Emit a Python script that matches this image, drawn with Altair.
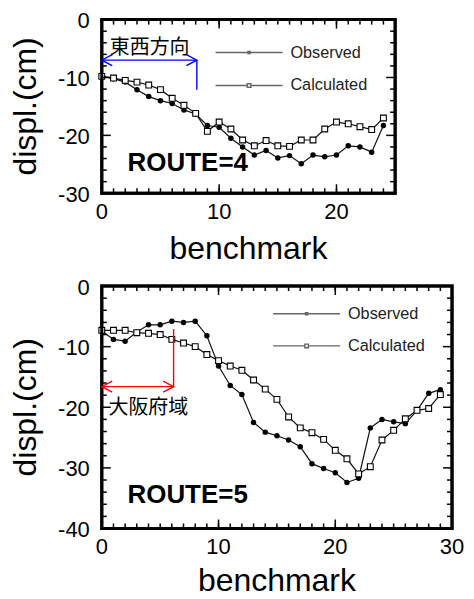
import altair as alt
import pandas as pd

# ---------------- data ----------------
series_names = ["Observed", "Calculated"]

bm4 = list(range(25))
obs4 = [-9.8, -10.2, -10.8, -12.1, -13.3, -14.0, -14.5, -15.6, -16.3, -18.3,
        -18.6, -20.5, -22.0, -23.4, -22.6, -23.9, -23.5, -24.9, -23.4, -23.7,
        -23.4, -21.8, -22.0, -22.9, -18.3]
calc4 = [-9.8, -10.1, -10.5, -10.8, -11.3, -12.1, -13.6, -14.8, -16.2, -19.3,
         -17.7, -18.9, -20.8, -21.8, -20.9, -21.8, -21.9, -20.8, -20.8, -18.9,
         -17.7, -18.0, -18.5, -19.0, -17.0]

bm5 = list(range(30))
obs5 = [-7.4, -8.8, -9.1, -7.6, -6.4, -6.4, -5.8, -6.0, -5.8, -8.2,
        -13.2, -16.4, -17.9, -22.5, -24.1, -24.7, -25.4, -26.5, -29.3, -30.1,
        -30.8, -32.4, -31.7, -23.4, -22.0, -22.4, -22.7, -20.5, -17.7, -17.1]
calc5 = [-7.3, -7.3, -7.3, -7.7, -7.8, -8.0, -8.8, -9.4, -10.0, -11.3,
         -12.3, -13.2, -13.9, -15.5, -17.0, -18.7, -21.6, -23.4, -24.2, -25.3,
         -27.1, -28.5, -31.0, -29.8, -25.4, -23.8, -21.9, -20.5, -20.2, -17.9]

# axis tick values
x_labels4 = [0, 10, 20]
x_labels5 = [0, 10, 20, 30]
y_labels4 = [0, -10, -20, -30]
y_labels5 = [0, -10, -20, -30, -40]
x_major4 = [10, 20]
x_major5 = [10, 20]
y_major4 = [-10, -20]
y_major5 = [-10, -20, -30]
x_minor4 = list(range(1, 25))
x_minor5 = list(range(1, 30))
y_minor4 = [-2, -4, -6, -8, -12, -14, -16, -18, -22, -24, -26, -28]
y_minor5 = [-2, -4, -6, -8, -12, -14, -16, -18, -22, -24, -26, -28,
            -32, -34, -36, -38]
x_title = "benchmark"
y_title = "displ.(cm)"

# annotations (data units)
route_text = ["ROUTE=4", "ROUTE=5"]
route_xy = [(2.2, -24.8), (2.2, -34.4)]
jp_text = ["東西方向", "大阪府域"]
jp_xy = [(0.68, -4.9), (0.57, -20.2)]
arrow_y = [-7.0, -16.6]
arrow_x2 = [8.1, 6.15]
vline_y = [(-7.0, -12.1), (-7.1, -16.6)]
arrow_color = ["#0000ff", "#ff0000"]

FONT = "Liberation Sans"
JFONT = "Noto Sans CJK JP"

# legend symbols: line with marker (stroke only)
P_OBS = ("M-1,0H6.9M2.82,-0.12H3.08V0.12H2.82ZM2.9,-0.04H3V0.04H2.9Z")
P_CALC = "M-1,0H2.74M3.16,0H6.9M2.74,-0.21H3.16V0.21H2.74Z"
HEAD_L = "M1.9,-1L0,0L1.9,1"
HEAD_R = "M-1.9,-1L0,0L-1.9,1"

MAJOR = 9
MINOR = 5


def panel(i, bm, obs, calc, xmax, ymin, w, h, xl, yl, xM, yM, xm, ym,
          leg_x, leg_y, row_pad, title_gap):
    df = pd.DataFrame({"bm": bm, "obs": obs, "calc": calc})
    xs = alt.Scale(domain=[0, xmax], nice=False, zero=False)
    ys = alt.Scale(domain=[ymin, 0], nice=False, zero=False)

    def X(f):
        return alt.X(f, scale=xs, axis=None)

    def Y(f):
        return alt.Y(f, scale=ys, axis=None)

    # inward ticks on all four sides, placed through the scales
    def xticks(vals, y0, y1):
        return alt.Chart(pd.DataFrame({"t": vals})).mark_rule(
            color="black", strokeWidth=1.5).encode(
            x=X("t:Q"), y=alt.value(y0), y2=alt.value(y1))

    def yticks(vals, x0, x1):
        return alt.Chart(pd.DataFrame({"t": vals})).mark_rule(
            color="black", strokeWidth=1.5).encode(
            y=Y("t:Q"), x=alt.value(x0), x2=alt.value(x1))

    ticks = [
        xticks(xM, h, h - MAJOR), xticks(xm, h, h - MINOR),
        xticks(xM, 0, MAJOR), xticks(xm, 0, MINOR),
        yticks(yM, 0, MAJOR), yticks(ym, 0, MINOR),
        yticks(yM, w, w - MAJOR), yticks(ym, w, w - MINOR),
    ]
    frame = alt.Chart(pd.DataFrame({"a": [0]})).mark_rect(
        fill="white", fillOpacity=0, stroke="black", strokeWidth=3).encode(
        x=alt.value(0), x2=alt.value(w), y=alt.value(0), y2=alt.value(h))

    # tick labels and axis titles as text placed through the scales
    xl_df = pd.DataFrame({"v": xl, "s": [str(v) for v in xl]})
    yl_df = pd.DataFrame({"v": yl, "s": [str(v) for v in yl]})
    x_labs = alt.Chart(xl_df).mark_text(
        font=FONT, fontSize=22, align="center", baseline="alphabetic",
        color="black").encode(x=X("v:Q"), y=alt.value(h + 26), text="s:N")
    y_labs = alt.Chart(yl_df).mark_text(
        font=FONT, fontSize=22, align="right", baseline="alphabetic",
        dy=8.5, color="black").encode(y=Y("v:Q"), x=alt.value(-12),
                                      text="s:N")
    xt = alt.Chart(pd.DataFrame({"s": [x_title]})).mark_text(
        font=FONT, fontSize=32, align="center", baseline="alphabetic",
        color="black").encode(x=alt.value(w / 2), y=alt.value(h + title_gap),
                              text="s:N")
    yt = alt.Chart(pd.DataFrame({"s": [y_title]})).mark_text(
        font=FONT, fontSize=32, align="center", baseline="alphabetic",
        angle=270, color="black").encode(x=alt.value(-66),
                                         y=alt.value(h / 2), text="s:N")

    base = alt.Chart(df)
    obs_line = base.mark_line(color="#111", strokeWidth=1.2).encode(
        x=X("bm:Q"), y=Y("obs:Q"))
    calc_line = base.mark_line(color="#111", strokeWidth=1.2).encode(
        x=X("bm:Q"), y=Y("calc:Q"))
    obs_pts = base.mark_point(shape="circle", filled=True, color="black",
                              size=30, opacity=1).encode(
        x=X("bm:Q"), y=Y("obs:Q"))
    calc_pts = base.mark_square(size=34, fill="white", stroke="black",
                                strokeWidth=1.1, opacity=1).encode(
        x=X("bm:Q"), y=Y("calc:Q"))

    leg_df = pd.DataFrame({"series": series_names, "bm": [0, 0], "v": [0, 0]})
    legend_layer = alt.Chart(leg_df).mark_point(
        size=289, color="#666", filled=False, strokeWidth=1.4).encode(
        x=X("bm:Q"), y=Y("v:Q"),
        shape=alt.Shape("series:N", scale=alt.Scale(domain=series_names,
                                                    range=[P_OBS, P_CALC]),
                        legend=alt.Legend(
                            orient="none", legendX=leg_x, legendY=leg_y,
                            title=None, labelFont=FONT, labelFontSize=16.3,
                            labelColor="#222", symbolSize=289,
                            symbolStrokeColor="#666", symbolStrokeWidth=1.4,
                            symbolOpacity=1, labelOffset=57,
                            rowPadding=row_pad, padding=0)),
    ).transform_filter("false")

    col = arrow_color[i]
    ann_h = pd.DataFrame({"x": [0], "x2": [arrow_x2[i]], "y": [arrow_y[i]]})
    ann_v = pd.DataFrame({"x": [arrow_x2[i]], "y": [vline_y[i][0]],
                          "y2": [vline_y[i][1]]})
    hl = pd.DataFrame({"x": [0], "y": [arrow_y[i]]})
    hr = pd.DataFrame({"x": [arrow_x2[i]], "y": [arrow_y[i]]})
    rule_h = alt.Chart(ann_h).mark_rule(color=col, strokeWidth=1.4).encode(
        x=X("x:Q"), x2="x2", y=Y("y:Q"))
    rule_v = alt.Chart(ann_v).mark_rule(color=col, strokeWidth=1.4).encode(
        x=X("x:Q"), y=Y("y:Q"), y2="y2")
    head_l = alt.Chart(hl).mark_point(shape=HEAD_L, size=121, filled=False,
                                      stroke=col, strokeWidth=1.4,
                                      opacity=1).encode(x=X("x:Q"), y=Y("y:Q"))
    head_r = alt.Chart(hr).mark_point(shape=HEAD_R, size=121, filled=False,
                                      stroke=col, strokeWidth=1.4,
                                      opacity=1).encode(x=X("x:Q"), y=Y("y:Q"))

    jp = pd.DataFrame({"x": [jp_xy[i][0]], "y": [jp_xy[i][1]], "t": [jp_text[i]]})
    jp_t = alt.Chart(jp).mark_text(font=JFONT, fontSize=20, align="left",
                                   baseline="middle", color="black").encode(
        x=X("x:Q"), y=Y("y:Q"), text="t:N")
    rt = pd.DataFrame({"x": [route_xy[i][0]], "y": [route_xy[i][1]],
                       "t": [route_text[i]]})
    rt_t = alt.Chart(rt).mark_text(font=FONT, fontSize=26, fontWeight="bold",
                                   align="left", baseline="middle",
                                   color="black").encode(
        x=X("x:Q"), y=Y("y:Q"), text="t:N")

    return alt.layer(obs_line, calc_line, obs_pts, calc_pts, *ticks, frame,
                     legend_layer, rule_h, rule_v, head_l, head_r, jp_t,
                     rt_t, x_labs, y_labs, xt, yt
                     ).properties(width=w, height=h)


top = panel(0, bm4, obs4, calc4, 25, -30, 294, 174, x_labels4, y_labels4,
            x_major4, y_major4, x_minor4, y_minor4, 113, 23.5, 15, 66)
bottom = panel(1, bm5, obs5, calc5, 30, -40, 351, 243, x_labels5, y_labels5,
               x_major5, y_major5, x_minor5, y_minor5, 170.7, 18.2, 14.3, 63)

chart = alt.vconcat(top, bottom, spacing=8).resolve_scale(
    shape="independent").resolve_legend(shape="independent").properties(
    padding={"left": 0, "top": 0, "right": 0, "bottom": 0}
).configure_view(stroke="black", strokeWidth=3)

chart.save("out.html", embed_options={"renderer": "svg", "actions": False})
